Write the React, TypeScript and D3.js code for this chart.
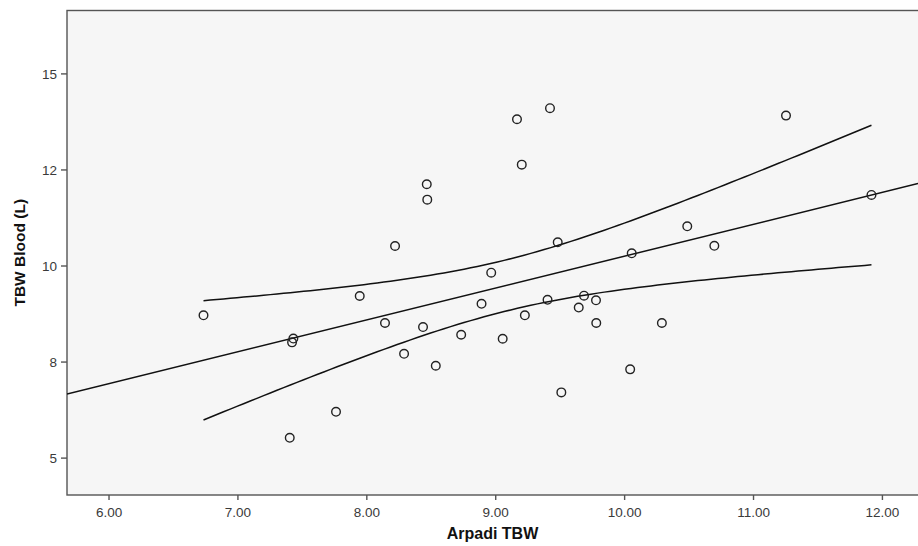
import React from "react";
import * as d3 from "d3";

const xValues = [6.733, 7.43, 7.42, 7.402, 7.761, 7.945, 8.141, 8.219, 8.289, 8.436, 8.465, 8.469, 8.535, 8.732, 8.89, 8.965, 9.054, 9.165, 9.202, 9.226, 9.402, 9.421, 9.481, 9.509, 9.644, 9.685, 9.778, 9.78, 10.043, 10.055, 10.289, 10.486, 10.696, 11.252, 11.915];
const yValues = [8.716, 8.112, 8.013, 5.529, 6.206, 9.219, 8.516, 10.521, 7.714, 8.411, 12.128, 11.727, 7.404, 8.211, 9.016, 9.826, 8.107, 13.82, 12.638, 8.716, 9.12, 14.107, 10.617, 6.711, 8.919, 9.227, 9.107, 8.516, 7.31, 10.331, 8.516, 11.034, 10.526, 13.914, 11.849];

const xTicks = [6, 7, 8, 9, 10, 11, 12];
const yTicks = [5, 7.5, 10, 12.5, 15];
const yTickLabels = ["5", "8", "10", "12", "15"];
const xTitle = "Arpadi TBW";
const yTitle = "TBW Blood (L)";

const W = 918;
const H = 546;
const left = 67;
const right = 918;
const top = 10.5;
const bottom = 495;

const x = d3.scaleLinear().domain([5.674, 12.276]).range([left, right]);
const y = d3.scaleLinear().domain([4.04, 16.65]).range([bottom, top]);

function fit() {
  const n = xValues.length;
  const mx = d3.mean(xValues)!;
  const my = d3.mean(yValues)!;
  let sxx = 0, sxy = 0;
  for (let i = 0; i < n; i++) {
    sxx += (xValues[i] - mx) ** 2;
    sxy += (xValues[i] - mx) * (yValues[i] - my);
  }
  const b = sxy / sxx;
  const a = my - b * mx;
  let sse = 0;
  for (let i = 0; i < n; i++) sse += (yValues[i] - (a + b * xValues[i])) ** 2;
  const s = Math.sqrt(sse / (n - 2));
  const t = 2.0345;
  return { a, b, s, n, mx, sxx, t };
}

export default function App() {
  const f = fit();
  const xmin = d3.min(xValues)!;
  const xmax = d3.max(xValues)!;
  const grid = d3.range(0, 101).map((i) => xmin + ((xmax - xmin) * i) / 100);
  const half = (xv: number) => f.t * f.s * Math.sqrt(1 / f.n + (xv - f.mx) ** 2 / f.sxx);
  const line = d3
    .line<[number, number]>()
    .x((d) => x(d[0]))
    .y((d) => y(d[1]));
  const upper = grid.map((xv) => [xv, f.a + f.b * xv + half(xv)] as [number, number]);
  const lower = grid.map((xv) => [xv, f.a + f.b * xv - half(xv)] as [number, number]);
  const mid = x.domain().map((xv) => [xv, f.a + f.b * xv] as [number, number]);
  const font = "'Liberation Sans', Arial, Helvetica, sans-serif";

  return (
    <svg width={W} height={H} style={{ position: "absolute", left: 0, top: 0, background: "#fff" }}>
      <defs>
        <clipPath id="plot">
          <rect x={left} y={top} width={right - left} height={bottom - top} />
        </clipPath>
      </defs>
      <rect x={left} y={top} width={right - left + 5} height={bottom - top} fill="#f6f6f6" stroke="#555" strokeWidth={1.4} />
      <g clipPath="url(#plot)" fill="none" stroke="#111" strokeWidth={1.5}>
        <path d={line(mid)!} />
        <path d={line(upper)!} />
        <path d={line(lower)!} />
      </g>
      <g fill="none" stroke="#222" strokeWidth={1.4}>
        {xValues.map((xv, i) => (
          <circle key={i} cx={x(xv)} cy={y(yValues[i])} r={4.3} />
        ))}
      </g>
      <g fontFamily={font} fontSize={13.5} fill="#3a3a3a">
        {xTicks.map((t) => (
          <g key={t}>
            <line x1={x(t)} x2={x(t)} y1={bottom} y2={bottom + 5} stroke="#555" strokeWidth={1.4} />
            <text x={x(t)} y={517} textAnchor="middle">
              {t.toFixed(2)}
            </text>
          </g>
        ))}
        {yTicks.map((t, i) => (
          <g key={t}>
            <line x1={left - 6} x2={left} y1={y(t)} y2={y(t)} stroke="#555" strokeWidth={1.4} />
            <text x={left - 10} y={y(t) + 5} textAnchor="end">
              {yTickLabels[i]}
            </text>
          </g>
        ))}
      </g>
      <text x={(left + right) / 2} y={539} textAnchor="middle" fontFamily={font} fontWeight="bold" fontSize={16} fill="#111">
        {xTitle}
      </text>
      <text
        transform={`translate(25, ${(top + bottom) / 2}) rotate(-90)`}
        textAnchor="middle"
        fontFamily={font}
        fontWeight="bold"
        fontSize={15.5}
        fill="#111"
      >
        {yTitle}
      </text>
    </svg>
  );
}
